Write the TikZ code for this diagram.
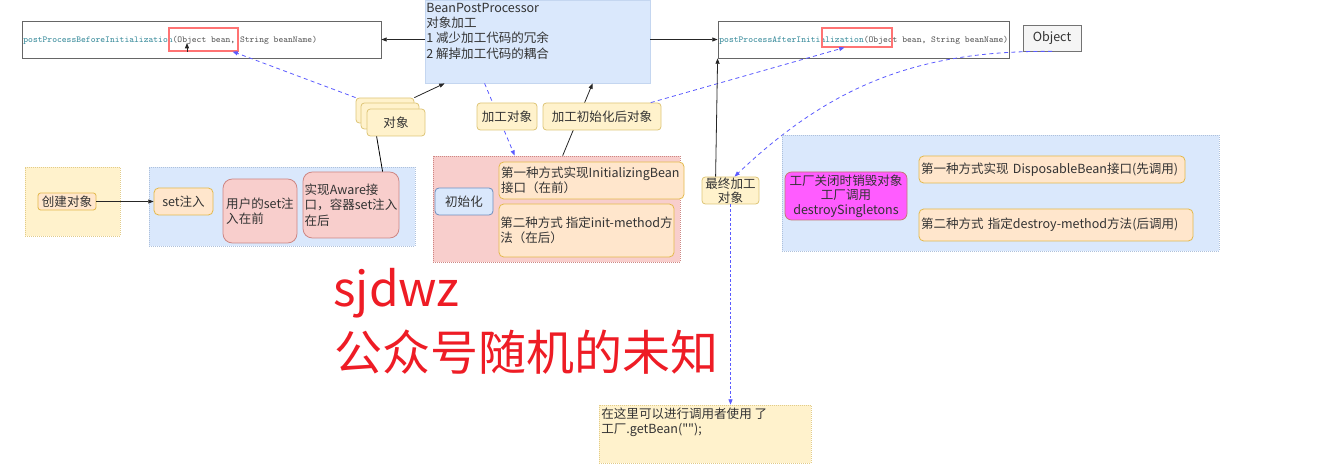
\documentclass[tikz,border=0pt]{standalone}
\usepackage{fontspec}
\setmainfont{Noto Sans CJK SC}
\newfontfamily\plainfont{Noto Sans CJK SC}
\usetikzlibrary{arrows.meta}
\definecolor{bluefill}{HTML}{DAE8FC}
\definecolor{blueline}{HTML}{6C8EBF}
\definecolor{yellowfill}{HTML}{FFF2CC}
\definecolor{yellowline}{HTML}{D6B656}
\definecolor{orangefill}{HTML}{FFE6CC}
\definecolor{orangeline}{HTML}{D79B00}
\definecolor{redfill}{HTML}{F8CECC}
\definecolor{redline}{HTML}{B85450}
\definecolor{pinkfill}{HTML}{FF5CFF}
\definecolor{codeteal}{HTML}{3A8C9C}
\definecolor{linkblue}{HTML}{5A5AFF}
\definecolor{markred}{HTML}{EE1C25}
\begin{document}
\begin{tikzpicture}
      [
        x=0.75pt, y=-0.75pt, line width=0.6pt,
        every node/.style={inner sep=0pt, text=black!80, font=\fontsize{9.4}{11.5}\selectfont},
        sz/.style 2 args={minimum width=#1*0.75pt, minimum height=#2*0.75pt},
        tw/.style={text width=#1*0.75pt, align=left},
        codebox/.style={draw=black!60, fill=white},
        markbox/.style={draw=red!55, line width=0.8pt},
        codetext/.style={font=\fontsize{6.8}{8}\ttfamily, text=black!65},
        bluebox/.style={draw=bluefill!80!blueline, fill=bluefill},
        bluearea/.style={draw=blueline!55, fill=bluefill, densely dotted, line width=0.5pt},
        yellowarea/.style={draw=yellowline!70, fill=yellowfill, densely dotted, line width=0.5pt},
        redarea/.style={draw=redline!70, fill=redfill, densely dotted, line width=0.5pt},
        yellowbox/.style={draw=yellowline!80, fill=yellowfill, rounded corners=2.5pt},
        orangebox/.style={draw=orangeline!70, fill=orangefill, rounded corners=3.5pt},
        redbox/.style={draw=redline!70, fill=redfill, rounded corners=7pt},
        initbox/.style={draw=blueline, fill=bluefill, rounded corners=3pt},
        arr/.style={-{Triangle[length=4pt,width=3pt]}, black!85},
        bluearr/.style={-{Triangle[length=4pt,width=3pt]}, linkblue, dash pattern=on 3pt off 2.5pt}
      ]
      \useasboundingbox (0,0) rectangle (1343,466);
      % top row
      \node (before) [codebox, sz={359}{37}] at (201.5,39.5) {};
      \node (beforetxt) [codetext, anchor=west] at (23,40)
        {\textcolor{codeteal}{postProcessBeforeInitialization}(Object bean, String beanName)};
      \node (beforemark) [markbox, sz={69}{23}] at (203.5,39.5) {};
      \coordinate (beforetip) at (187,43);
      \draw[arr] (beforemark.south -| beforetip) -- (beforetip);

      \node (bpp) [bluebox, sz={225}{83}] at (537.5,41.5) {};
      \node (bpptxt) [anchor=north west, align=left, font=\fontsize{9.4}{11.4}\selectfont] at (426,3)
        {BeanPostProcessor\\对象加工\\1 减少加工代码的冗余\\2 解掉加工代码的耦合};

      \node (after) [codebox, sz={291}{37}] at (863.5,39.5) {};
      \node (aftertxt) [codetext, anchor=west] at (719,40)
        {\textcolor{codeteal}{postProcessAfterInitialization}(Object bean, String beanName)};
      \node (aftermark) [markbox, sz={70}{19}] at (857,37.5) {};

      \node (obj) [draw=black!55, fill=black!4, sz={58}{26}] at (1052,38) {Object};

      \draw[arr] (bpp.west |- before) -- (before.east);
      \draw[arr] (bpp.east |- after) -- (after.west);

      % create and set
      \node (createarea) [yellowarea, sz={95}{69}] at (72.5,201.5) {};
      \node (create) [orangebox, rounded corners=2pt, sz={58}{17}] at (67,201.5) {创建对象};
      \node (setarea) [bluearea, sz={266}{79}] at (282,206.5) {};
      \node (setin) [orangebox, sz={59}{27}] at (183.5,201.5) {set注入};
      \node (userset) [redbox, align=left, sz={74}{64}] at (260,211) {用户的set注\\入在前};
      \node (aware) [redbox, align=left, sz={96}{66}] at (351,205) {实现Aware接\\口，容器set注入\\在后};
      \draw[arr] (create) -- (setin);

      % init
      \node (initarea) [redarea, sz={247}{106}] at (556.5,209) {};
      \node (init) [initbox, sz={58}{27}] at (464,201.5) {初始化};
      \node (way1) [orangebox, tw=181, sz={185}{37}] at (591.5,180.5) {第一种方式实现InitializingBean\\接口（在前）};
      \node (way2) [orangebox, align=left, sz={175}{53}] at (586.5,230.5) {第二种方式 指定init-method方\\法（在后）};

      % object stack
      \node (obj1) [yellowbox, sz={58}{25}] at (385,110.5) {};
      \node (obj2) [yellowbox, sz={58}{26}] at (390,116) {};
      \node (obj3) [yellowbox, sz={58}{27}] at (396,122.5) {对象};
      \draw[arr] (obj1.north east) -- ([xshift=15pt]bpp.south west);
      \draw (aware.north west) ++(60pt,0) -- ([xshift=7.5pt]obj3.south west);
      \draw[bluearr] (obj1.north west) -- ([xshift=-4.5pt]beforemark.south east);

      \draw[bluearr] ([xshift=45pt]bpp.south west) -- ([xshift=61.5pt]initarea.north west);
      \node (tobean) [yellowbox, sz={60}{27}] at (507,116.5) {加工对象};
      \draw[arr] ([xshift=97.5pt]initarea.north west) -- ([xshift=126pt]bpp.south west);
      \node (afterbean) [yellowbox, sz={118}{27}] at (602,116.5) {加工初始化后对象};
      \draw[bluearr] ([xshift=-8pt]afterbean.north east) -- ([xshift=-36pt]aftermark.south east);

      % final object
      \node (final) [yellowbox, align=center, font=\fontsize{9.4}{10.5}\selectfont, sz={57}{27}] at (730.5,190.5) {最终加工\\对象};
      \draw[arr] ([xshift=10.5pt]final.north west) -- (after.south west);
      \draw[bluearr] (obj.south) to[bend right=22] ([xshift=3pt]final.north);
      \node (usebox) [yellowarea, sz={212}{58}] at (705,434) {};
      \node (usetxt) [anchor=north west, align=left, font=\fontsize{9.4}{11.5}\plainfont] at (601,407)
        {在这里可以进行调用者使用 了\\工厂.getBean("");};
      \draw[bluearr, dash pattern=on 2pt off 1.5pt] (final.south) -- (final.south |- usebox.north);

      % destroy
      \node (destroyarea) [bluearea, sz={437}{116}] at (1000.5,193) {};
      \node (factory) [draw=redline!80, fill=pinkfill, rounded corners=5pt, align=center,
        font=\fontsize{9.4}{11}\selectfont, sz={122}{48}] at (846,196) {工厂关闭时销毁对象\\工厂调用\\destroySingletons};
      \node (dispose) [orangebox, tw=262, sz={266}{27}] at (1052,169.5) {第一种方式实现 DisposableBean接口(先调用)};
      \node (destroy) [orangebox, tw=270, sz={274}{32}] at (1056,225) {第二种方式 指定destroy-method方法(后调用)};

      % watermark
      \node (mark1) [anchor=base west, text=markred, font=\fontsize{36}{40}\selectfont] at (333,307) {sjdwz};
      \node (mark2) [anchor=base west, text=markred, font=\fontsize{36}{40}\selectfont] at (334,371) {公众号随机的未知};
\end{tikzpicture}
\end{document}
